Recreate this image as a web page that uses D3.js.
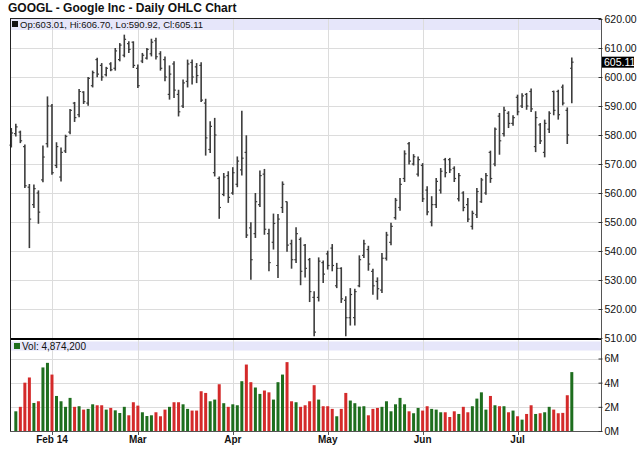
<!DOCTYPE html>
<html><head><meta charset="utf-8">
<script src="https://cdn.jsdelivr.net/npm/d3@7"></script>
<style>body{margin:0;background:#fff}svg{display:block;font-family:"Liberation Sans",Arial,sans-serif}</style>
</head><body><svg id="c" width="640" height="468"></svg>
<script>
const dates = [
"2014-01-21","2014-01-22","2014-01-23","2014-01-24","2014-01-27","2014-01-28","2014-01-29","2014-01-30","2014-01-31",
"2014-02-03","2014-02-04","2014-02-05","2014-02-06","2014-02-07","2014-02-10","2014-02-11","2014-02-12","2014-02-13","2014-02-14","2014-02-18","2014-02-19","2014-02-20","2014-02-21","2014-02-24","2014-02-25","2014-02-26","2014-02-27","2014-02-28",
"2014-03-03","2014-03-04","2014-03-05","2014-03-06","2014-03-07","2014-03-10","2014-03-11","2014-03-12","2014-03-13","2014-03-14","2014-03-17","2014-03-18","2014-03-19","2014-03-20","2014-03-21","2014-03-24","2014-03-25","2014-03-26","2014-03-27","2014-03-28","2014-03-31",
"2014-04-01","2014-04-02","2014-04-03","2014-04-04","2014-04-07","2014-04-08","2014-04-09","2014-04-10","2014-04-11","2014-04-14","2014-04-15","2014-04-16","2014-04-17","2014-04-21","2014-04-22","2014-04-23","2014-04-24","2014-04-25","2014-04-28","2014-04-29","2014-04-30",
"2014-05-01","2014-05-02","2014-05-05","2014-05-06","2014-05-07","2014-05-08","2014-05-09","2014-05-12","2014-05-13","2014-05-14","2014-05-15","2014-05-16","2014-05-19","2014-05-20","2014-05-21","2014-05-22","2014-05-23","2014-05-27","2014-05-28","2014-05-29","2014-05-30",
"2014-06-02","2014-06-03","2014-06-04","2014-06-05","2014-06-06","2014-06-09","2014-06-10","2014-06-11","2014-06-12","2014-06-13","2014-06-16","2014-06-17","2014-06-18","2014-06-19","2014-06-20","2014-06-23","2014-06-24","2014-06-25","2014-06-26","2014-06-27","2014-06-30",
"2014-07-01","2014-07-02","2014-07-03","2014-07-07","2014-07-08","2014-07-09","2014-07-10","2014-07-11","2014-07-14","2014-07-15","2014-07-16","2014-07-17","2014-07-18"];

const opens = [576.5,580.5,581,576,562,556,560,564.5,577,590,569.5,565.5,574.5,581,591,587,594.8,591,597,606,604,600.8,604.5,603,606,607.5,611.5,612,603,605.5,606.5,608,612.5,608,606,594,604.5,594,590,598.5,605,603.5,604,591,575,567,565,559.5,566,560,563,568,574,548,546,556,566.5,546,543,535,555,557,542.5,537,544,542,537,524,524,536,539,541,528,534,523,517,517,528,538.5,540.5,533,529.5,526.5,537.5,543,551.5,555,565,577,570,566.5,569.5,561,550,556,561,571.5,571.5,568.5,558,560,556,548.5,552.5,557,560,574,570,586.5,580.5,587.5,584,593,590,594,595,576,583.5,574,582,595,595,596.5,588.5,603.01];
const highs = [582.4,583.9,581.5,576.7,563.1,562.9,560.9,576.4,593.3,590.7,577.5,575.7,580.1,589.0,591.4,595.9,595.1,600.0,602.2,606.6,604.8,603.5,605.1,610.0,611.7,614.6,612.3,612.3,604.3,608.3,610.0,613.2,613.5,608.9,607.1,604.0,605.4,595.6,599.1,606.0,606.0,604.8,605.1,592.5,584.7,585.9,565.7,566.9,567.5,568.9,572.6,588.4,579.9,549.9,560.0,567.8,568.3,547.7,552.9,552.8,564.0,557.1,543.9,548.2,544.7,542.4,537.6,526.1,537.8,536.7,540.1,542.4,535.9,534.4,524.4,527.2,527.0,538.5,543.9,541.8,533.9,530.9,539.3,546.6,549.7,558.3,565.2,574.7,577.6,573.4,572.6,570.3,562.3,558.9,565.2,568.6,572.1,572.1,569.2,566.9,560.6,558.3,553.9,561.7,565.2,566.9,574.6,582.6,587.6,589.7,588.2,586.8,593.9,594.4,594.5,596.0,588.2,584.1,585.3,588.2,595.3,595.6,597.4,589.5,606.70];
const lows = [575.7,579.5,577.2,561.7,541.0,554.8,549.4,563.7,575.7,566.3,568.6,564.0,573.8,580.3,584.5,586.1,590.7,590.1,596.4,599.9,598.7,600.2,602.0,602.2,605.4,606.8,608.3,603.1,596.2,604.8,606.0,607.1,606.0,602.2,598.5,592.2,592.8,586.4,589.3,596.4,597.4,597.9,591.4,572.9,573.8,565.7,551.1,558.9,556.6,559.4,562.0,566.0,544.5,530.1,544.5,555.2,545.6,533.0,540.5,530.7,553.1,539.7,533.9,535.9,528.2,530.9,522.4,510.6,522.6,529.0,533.6,533.0,527.2,522.1,510.6,514.3,514.3,527.5,537.6,533.2,524.9,523.2,525.5,536.7,542.0,550.8,553.9,563.8,569.8,569.5,565.7,556.9,552.3,548.5,554.8,559.8,565.4,566.9,563.8,557.1,553.7,550.0,547.4,551.4,556.6,559.4,563.5,569.2,573.2,579.5,582.4,583.2,586.8,589.3,588.7,587.9,574.1,576.9,572.3,580.7,586.8,585.3,590.2,576.9,590.92];
const closes = [580.7,582.8,578,562.5,551,561.5,553.4,572.4,590,567,576,574,579.5,588.5,586,595,591.5,599.5,601.5,601,600,603,602.5,609,611,613,609.5,604,597,607.5,609.5,612,607,603,600,601,595.5,588,598,604.5,600,600.5,592,579,583,580,555,565.5,558.5,567,571,572,545.5,537,557,566,547.5,536,549.5,551,563,542,537,546,533,534,526,512,536.5,532,535,535,534,523.5,517,525,526,537,542.5,535.5,528,527,537.5,545.5,548.5,557.5,563,573.5,571,572.5,571.5,558,553.5,556,564,567.5,567,568,565,566,555,551,553,560.5,564.5,566,565,582,578,588.5,584,586,588,593.5,590,589,586,578,584,587.5,588.5,587,591,580,605.11];
// volume in millions of shares (first session not shown in the reference)
const volumes = [null,1.63,2.0,4.0,4.43,2.32,2.46,5.26,5.64,4.67,2.9,2.46,2.0,2.74,2.0,2.05,1.77,1.83,2.21,2.13,2.13,1.77,1.91,1.71,1.49,2.0,1.3,2.38,2.1,1.55,1.24,1.3,1.55,1.22,1.77,2.0,2.38,2.38,2.21,1.83,1.69,1.69,3.29,3.15,2.46,2.6,3.87,2.3,2.0,2.21,2.13,4.12,5.5,4.04,3.6,3.07,3.35,3.2,2.6,4.04,4.67,5.7,2.46,2.38,2.0,2.13,2.46,3.79,2.6,2.05,2.05,1.83,1.22,1.83,3.15,2.52,2.3,2.02,2.05,1.3,1.83,1.91,2.0,2.46,1.63,2.21,2.74,2.21,1.63,1.47,1.91,1.69,2.05,1.83,1.77,1.55,1.55,1.16,1.63,1.41,2.0,1.55,2.05,2.68,3.2,1.77,2.9,2.13,2.05,2.05,1.55,1.69,1.22,0.94,1.41,2.13,1.41,1.47,1.55,2.0,1.77,1.47,1.5,2.96,4.8742];

const priceTicks = [510,520,530,540,550,560,570,580,590,600,610,620];
const volTicks = [0,2,4,6];
const monthLabels = ["Feb 14","Mar","Apr","May","Jun","Jul"];
const monthKeys = ["2014-02","2014-03","2014-04","2014-05","2014-06","2014-07"];

const L = 10, R = 601, PT = 18.5, PB = 338, VT = 340, VB = 431;
const svg = d3.select("#c");
const band = "#e6e6fa", grid = "#dcdcdc";

const x = d3.scalePoint().domain(dates).range([11.3, 571.8]);
const y = d3.scaleLinear().domain([510, 620]).range([PB, 19]);
const yv = d3.scaleLinear().domain([0, 6]).range([VB, 358.5]);

// title
svg.append("text").attr("x", 8).attr("y", 12).attr("font-size", 12).attr("font-weight", "bold")
  .attr("fill", "#111").text("GOOGL - Google Inc - Daily OHLC Chart");

// header bands
svg.append("rect").attr("x", L).attr("y", PT).attr("width", R - L).attr("height", 11.5).attr("fill", band);
svg.append("rect").attr("x", L).attr("y", VT + 1.5).attr("width", R - L).attr("height", 9).attr("fill", band);

// month gridlines
const monthFirst = monthKeys.map(k => dates.find(d => d.startsWith(k)));
svg.append("g").selectAll("line").data(monthFirst).join("line")
  .attr("x1", d => Math.round(x(d)) + 0.5).attr("x2", d => Math.round(x(d)) + 0.5)
  .attr("y1", PT).attr("y2", VB).attr("stroke", grid).attr("stroke-width", 1);

// price horizontal grid
svg.append("g").selectAll("line").data(priceTicks.filter(t => t > 510 && t < 620)).join("line")
  .attr("x1", L).attr("x2", R).attr("y1", d => Math.round(y(d)) + 0.5).attr("y2", d => Math.round(y(d)) + 0.5)
  .attr("stroke", grid);
// volume horizontal grid
svg.append("g").selectAll("line").data(volTicks.filter(t => t > 0)).join("line")
  .attr("x1", L).attr("x2", R).attr("y1", d => Math.round(yv(d)) + 0.5).attr("y2", d => Math.round(yv(d)) + 0.5)
  .attr("stroke", grid);

// header texts
svg.append("rect").attr("x", 12).attr("y", 21).attr("width", 6).attr("height", 6).attr("fill", "#111");
const i1 = dates.length - 1;
svg.append("text").attr("x", 20).attr("y", 27.5).attr("font-size", 9.5).attr("fill", "#111")
  .text(`Op:${opens[i1].toFixed(2)}, Hi:${highs[i1].toFixed(2)}, Lo:${lows[i1].toFixed(2)}, Cl:${closes[i1].toFixed(2)}`);
svg.append("rect").attr("x", 14).attr("y", 343).attr("width", 6).attr("height", 6).attr("fill", "#1e6e1e");
svg.append("text").attr("x", 22).attr("y", 349.5).attr("font-size", 10).attr("fill", "#111")
  .text("Vol: " + d3.format(",")(Math.round(volumes[i1] * 1e6)));

// OHLC bars
const ohlc = dates.map((d, i) => ({d, o: opens[i], h: highs[i], l: lows[i], c: closes[i], v: volumes[i]}));
const gb = svg.append("g").attr("stroke", "#3c3c3c").attr("stroke-width", 1.6);
gb.selectAll(".hl").data(ohlc).join("line")
  .attr("x1", d => x(d.d)).attr("x2", d => x(d.d)).attr("y1", d => y(d.h)).attr("y2", d => y(d.l));
gb.selectAll(".op").data(ohlc).join("line").attr("stroke-width", 1.2)
  .attr("x1", d => x(d.d) - 1.8).attr("x2", d => x(d.d)).attr("y1", d => y(d.o)).attr("y2", d => y(d.o));
gb.selectAll(".cl").data(ohlc).join("line").attr("stroke-width", 1.2)
  .attr("x1", d => x(d.d)).attr("x2", d => x(d.d) + 1.8).attr("y1", d => y(d.c)).attr("y2", d => y(d.c));

// volume bars
svg.append("g").selectAll("rect").data(ohlc.filter(d => d.v != null)).join("rect")
  .attr("x", d => x(d.d) - 1.5).attr("width", 3)
  .attr("y", d => yv(d.v)).attr("height", d => VB - yv(d.v))
  .attr("fill", d => d.c >= d.o ? "#1e6e1e" : "#d42a2a");

// frame lines
svg.append("line").attr("x1", L).attr("x2", R).attr("y1", PT).attr("y2", PT).attr("stroke", "#222");
svg.append("line").attr("x1", L).attr("x2", R + 1).attr("y1", 339).attr("y2", 339).attr("stroke", "#000").attr("stroke-width", 2);
svg.append("line").attr("x1", L + 0.5).attr("x2", L + 0.5).attr("y1", PT).attr("y2", VB).attr("stroke", "#222");
svg.append("line").attr("x1", L).attr("x2", R).attr("y1", VB + 0.5).attr("y2", VB + 0.5).attr("stroke", "#555");

// right axes
const pAxis = d3.axisRight(y).tickValues(priceTicks).tickFormat(d3.format(".2f")).tickSize(0).tickPadding(3);
const gp = svg.append("g").attr("transform", `translate(${R + 0.5},0)`).call(pAxis);
gp.select(".domain").attr("stroke", "#555").attr("d", `M0,${PT}V${VB}`);
gp.selectAll(".tick text").attr("font-size", 10.5).attr("fill", "#111").attr("font-family", '"Liberation Sans",Arial,sans-serif');
gp.selectAll(".tick").append("line").attr("x1", -3).attr("x2", 1).attr("stroke", "#333");
gp.selectAll(".tick").filter(d => d === 620 || d === 510).select("line").remove();

const vAxis = d3.axisRight(yv).tickValues(volTicks).tickFormat(d => d + "M").tickSize(0).tickPadding(3);
const gv = svg.append("g").attr("transform", `translate(${R + 0.5},0)`).call(vAxis);
gv.select(".domain").remove();
gv.selectAll(".tick text").attr("font-size", 10.5).attr("fill", "#111").attr("font-family", '"Liberation Sans",Arial,sans-serif');
gv.selectAll(".tick").append("line").attr("x1", -3).attr("x2", 1).attr("stroke", "#333");

// last price marker
const lastY = y(closes[i1]);
svg.append("rect").attr("x", R + 1).attr("y", lastY - 5.5).attr("width", 32).attr("height", 11).attr("fill", "#000");
svg.append("text").attr("x", R + 3).attr("y", lastY + 4).attr("font-size", 10.5).attr("fill", "#fff").text(closes[i1].toFixed(2));

// bottom month labels
const gx = svg.append("g");
gx.selectAll("line").data(monthFirst).join("line")
  .attr("x1", d => Math.round(x(d)) + 0.5).attr("x2", d => Math.round(x(d)) + 0.5)
  .attr("y1", VB).attr("y2", VB + 4).attr("stroke", "#555");
gx.selectAll("text").data(monthFirst).join("text")
  .attr("x", d => x(d)).attr("y", 443).attr("text-anchor", "middle")
  .attr("font-size", 10).attr("font-weight", "bold").attr("fill", "#111")
  .text((d, i) => monthLabels[i]);
</script></body></html>
